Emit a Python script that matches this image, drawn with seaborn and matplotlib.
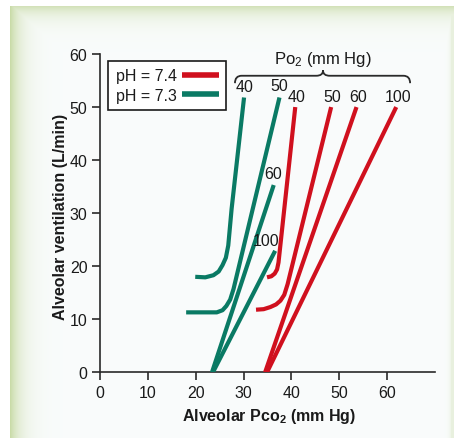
import numpy as np
import pandas as pd
import matplotlib
matplotlib.use("Agg")
import matplotlib.pyplot as plt
from matplotlib.path import Path
from matplotlib.patches import PathPatch
from matplotlib.lines import Line2D
import seaborn as sns

# ---------------- data ----------------
ph_levels = ["7.4", "7.3"]
colors = {"7.4": "#d0101e", "7.3": "#0a7a64"}

# pH 7.3 curves
g40_x = [19.9, 22.0, 23.7, 24.8, 25.6, 26.3, 26.8, 27.5, 30.1]
g40_y = [18.0, 17.9, 18.3, 19.0, 20.2, 21.6, 23.9, 30.8, 51.8]
g50_x = [18.0, 24.4, 25.6, 26.4, 27.2, 27.9, 37.5]
g50_y = [11.3, 11.3, 11.7, 12.5, 13.7, 15.7, 51.8]
g60_x = [23.4, 36.3]
g60_y = [0.0, 35.3]
g100_x = [23.6, 36.6]
g100_y = [0.0, 22.9]

# pH 7.4 curves
r40_x = [34.9, 35.8, 36.5, 37.0, 37.3, 40.8]
r40_y = [17.9, 18.1, 18.6, 19.4, 20.7, 50.0]
r50_x = [32.6, 34.2, 35.6, 36.8, 37.7, 38.5, 39.2, 48.3]
r50_y = [11.8, 11.9, 12.3, 12.8, 13.5, 14.6, 16.6, 50.0]
r60_x = [34.5, 53.6]
r60_y = [0.0, 50.0]
r100_x = [34.9, 61.9]
r100_y = [0.0, 50.0]

curves = [
    ("7.3", "40", g40_x, g40_y), ("7.3", "50", g50_x, g50_y),
    ("7.3", "60", g60_x, g60_y), ("7.3", "100", g100_x, g100_y),
    ("7.4", "40", r40_x, r40_y), ("7.4", "50", r50_x, r50_y),
    ("7.4", "60", r60_x, r60_y), ("7.4", "100", r100_x, r100_y),
]

# curve labels (Po2 values) and their positions
label_texts = ["40", "50", "40", "50", "60", "100", "60", "100"]
label_x = [30.2, 37.5, 41.1, 48.6, 54.0, 62.2, 36.1, 34.7]
label_y = [53.9, 54.0, 52.0, 52.0, 52.0, 52.0, 37.4, 24.8]

x_ticks = [0, 10, 20, 30, 40, 50, 60]
y_ticks = [0, 10, 20, 30, 40, 50, 60]

rows = []
for ph, po2, xs, ys in curves:
    cid = f"{ph}-{po2}"
    for i, (x, y) in enumerate(zip(xs, ys)):
        rows.append({"pco2": x, "vent": y, "ph": ph, "curve": cid, "order": i})
df = pd.DataFrame(rows)

# ---------------- styling ----------------
sns.set_style("ticks")
plt.rcParams["font.family"] = ["Liberation Sans", "DejaVu Sans"]
plt.rcParams["mathtext.fontset"] = "custom"
plt.rcParams["mathtext.rm"] = "Liberation Sans"
plt.rcParams["mathtext.it"] = "Liberation Sans:italic"
plt.rcParams["mathtext.bf"] = "Liberation Sans:bold"

W, H = 454, 439
fig = plt.figure(figsize=(W / 100, H / 100), dpi=100)
fig.patch.set_facecolor("white")

# background panel with soft green gradient border
bg = fig.add_axes([0, 0, 1, 1], zorder=-10)
yy, xx = np.mgrid[0:H, 0:W].astype(float)
inner = np.array([0.978, 0.988, 0.988])
green = np.array([0.79, 0.86, 0.66])
wl = np.exp(-np.clip(xx - 10, 0, None) / 11.0)
wt = 0.8 * np.exp(-np.clip(yy - 7, 0, None) / 10.0)
wr = 0.35 * np.exp(-np.clip(451 - xx, 0, None) / 2.0)
w = np.maximum(np.maximum(wl, wt), wr)[..., None]
img = inner * (1 - w) + green * w
mask = (xx < 10) | (yy < 7)
img[mask] = 1.0
bg.imshow(img, aspect="auto", interpolation="bilinear")
bg.set_axis_off()

ax = fig.add_axes([100 / W, 65.7 / H, 335 / W, 318.3 / H])
ax.set_facecolor("none")

sns.lineplot(data=df, x="pco2", y="vent", hue="ph", units="curve",
             estimator=None, sort=False, palette=colors, linewidth=3.0,
             legend=False, ax=ax, zorder=3)
for ln in ax.get_lines():
    ln.set_solid_capstyle("butt")
    ln.set_solid_joinstyle("round")

ax.set_xlim(0, 70)
ax.set_ylim(0, 60)
ax.set_xticks(x_ticks)
ax.set_yticks(y_ticks)
ax.set_xticklabels([str(t) for t in x_ticks])
ax.set_yticklabels([str(t) for t in y_ticks])
sns.despine(ax=ax)
for s in ["left", "bottom"]:
    ax.spines[s].set_color("#2a2a2a")
    ax.spines[s].set_linewidth(1.2)
ax.tick_params(axis="both", direction="out", length=6, width=1.2,
               color="#2a2a2a", labelsize=11.5, labelcolor="#1a1a1a", pad=3)

ax.set_xlabel("Alveolar Pco$_\\mathbf{2}$ (mm Hg)", fontsize=11.5,
              fontweight="bold", color="#1a1a1a")
ax.set_ylabel("Alveolar ventilation (L/min)", fontsize=11.5,
              fontweight="bold", color="#1a1a1a")
ax.xaxis.set_label_coords(0.505, -0.135)
ax.xaxis.label.set_va("center")
ax.yaxis.set_label_coords(-0.118, 0.49)
ax.yaxis.label.set_va("center")

# curve labels
for t, x, y in zip(label_texts, label_x, label_y):
    ax.text(x, y, t, ha="center", va="center", fontsize=11.5,
            color="#1a1a1a", zorder=5, clip_on=False)

# brace and Po2 header
verts = [(28.2, 54.5), (28.2, 55.9), (29.6, 55.9), (45.2, 55.9),
         (46.6, 55.9), (46.6, 56.9), (46.6, 55.9), (48.0, 55.9),
         (63.4, 55.9), (64.8, 55.9), (64.8, 54.5)]
codes = [Path.MOVETO, Path.CURVE3, Path.CURVE3, Path.LINETO,
         Path.CURVE3, Path.CURVE3, Path.CURVE3, Path.CURVE3,
         Path.LINETO, Path.CURVE3, Path.CURVE3]
ax.add_patch(PathPatch(Path(verts, codes), fill=False, lw=1.3,
                       edgecolor="#2a2a2a", clip_on=False, zorder=4))
ax.text(46.6, 59.2, "Po$_2$ (mm Hg)", ha="center", va="center",
        fontsize=12, color="#1a1a1a", clip_on=False)

# legend
handles = [Line2D([], [], color=colors[p], lw=4.0, solid_capstyle="butt")
           for p in ph_levels]
leg = ax.legend(handles, [f"pH = {p}" for p in ph_levels], markerfirst=False,
                loc="upper left", bbox_to_anchor=(0.025, 0.978),
                fontsize=11.5, frameon=True, fancybox=False,
                handlelength=2.3, handletextpad=0.35, borderpad=0.45,
                labelspacing=0.3, borderaxespad=0.0)
leg.get_frame().set_edgecolor("#1a1a1a")
leg.get_frame().set_linewidth(1.2)
leg.get_frame().set_facecolor("white")
leg.get_frame().set_alpha(1.0)
for t in leg.get_texts():
    t.set_color("#1a1a1a")

fig.savefig("out.png", dpi=100)
